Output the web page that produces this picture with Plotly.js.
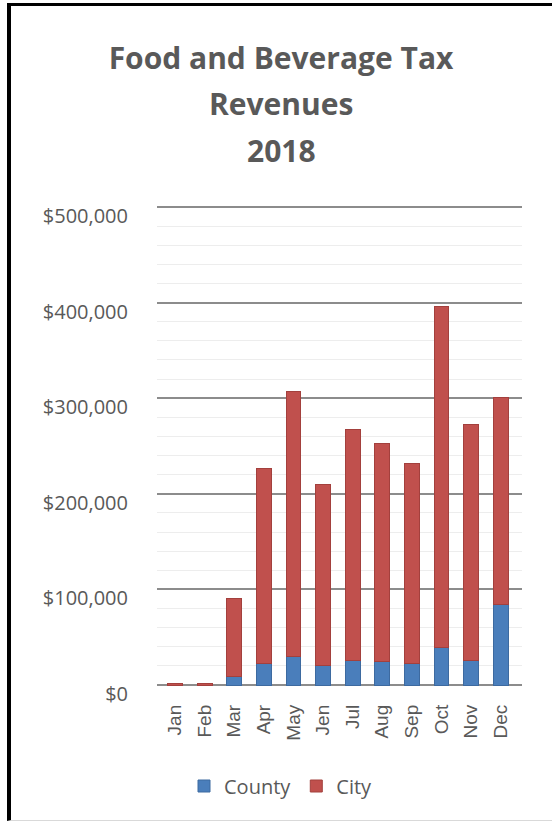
<!DOCTYPE html>
<html>
<head>
<meta charset="utf-8">
<script src="https://cdn.plot.ly/plotly-3.0.1.min.js"></script>
<style>
  html, body { margin: 0; padding: 0; background: #ffffff; }
  #chart { position: absolute; left: 0; top: 0; width: 552px; height: 823px; }
  #frame { position: absolute; left: 7px; top: 3px; width: 545px; height: 818px;
           border-left: 4px solid #000; border-top: 3px solid #000; border-bottom: 1px solid #d9d9d9;
           box-sizing: border-box; pointer-events: none; }
</style>
</head>
<body>
<div id="chart"></div>
<div id="frame"></div>
<script>
const months = ["Jan","Feb","Mar","Apr","May","Jen","Jul","Aug","Sep","Oct","Nov","Dec"];
const county = [0, 0, 9000, 22000, 30000, 20000, 26000, 25000, 22000, 39000, 26000, 84000];
const city   = [1500, 1500, 81000, 204000, 277000, 190000, 241000, 228000, 210000, 357000, 246000, 217000];
const yTickVals = [0, 100000, 200000, 300000, 400000, 500000];
const yTickText = ["$0", "$100,000", "$200,000", "$300,000", "$400,000", "$500,000"];
const titleLines = ["Food and Beverage Tax", "Revenues", "2018"];

const idx = months.map((m, i) => i);
const FONT = "Open Sans, Lato, sans-serif";
const GREY = "#595959";

const traces = [
  { type: "bar", name: "County", x: idx, y: county, width: 0.5,
    marker: { color: "#4a7ebb", line: { color: "#3d6aa0", width: 1 } } },
  { type: "bar", name: "City", x: idx, y: city, width: 0.5,
    marker: { color: "#c0504d", line: { color: "#a3403d", width: 1 } } }
];

// plot area: x 157..522 px, y 204..688 px (0 at 685, 500k at 207)
const PL = 157, PR = 522, PT = 204, PB = 688;
const px = p => (p - PL) / (PR - PL);
const py = p => (PB - p) / (PB - PT);

const layout = {
  width: 552, height: 823,
  margin: { l: PL, r: 552 - PR, t: PT, b: 823 - PB, pad: 0 },
  paper_bgcolor: "#ffffff", plot_bgcolor: "#ffffff",
  barmode: "stack",
  showlegend: true,
  font: { family: FONT, color: GREY },
  title: { text: titleLines[0], font: { family: FONT, size: 30, color: GREY, weight: "bold" },
           xref: "container", x: 281 / 552, xanchor: "center",
           yref: "container", y: 1 - 58 / 823, yanchor: "middle" },
  annotations: [
    { text: titleLines[1], xref: "paper", yref: "paper", x: px(281), y: py(103),
      xanchor: "center", yanchor: "middle", showarrow: false,
      font: { family: FONT, size: 30, color: GREY, weight: "bold" } },
    { text: titleLines[2], xref: "paper", yref: "paper", x: px(281), y: py(150),
      xanchor: "center", yanchor: "middle", showarrow: false,
      font: { family: FONT, size: 30, color: GREY, weight: "bold" } }
  ],
  xaxis: {
    range: [-0.61, 11.72],
    tickvals: idx, ticktext: months,
    tickangle: -90,
    tickfont: { family: "Liberation Sans, Arial, sans-serif", size: 19, color: GREY },
    showgrid: false, zeroline: false, showline: false, ticks: "",
    ticklabelstandoff: 12
  },
  yaxis: {
    range: [-3138, 503138],
    tickvals: yTickVals, ticktext: yTickText,
    tickfont: { family: FONT, size: 20, color: GREY },
    showgrid: true, gridcolor: "#8c8c8c", gridwidth: 2,
    minor: { dtick: 20000, showgrid: true, gridcolor: "#ededed", gridwidth: 1 },
    zeroline: false, showline: false, ticks: "",
    ticklabelstandoff: 28, ticklabelshift: 9
  },
  legend: {
    orientation: "h", xref: "container", yref: "container",
    x: 281 / 552, xanchor: "center", y: 1 - 786 / 823, yanchor: "middle",
    font: { family: FONT, size: 20, color: GREY },
    traceorder: "normal", itemwidth: 30
  }
};

Plotly.newPlot("chart", traces, layout, { staticPlot: true, displayModeBar: false });
</script>
</body>
</html>
